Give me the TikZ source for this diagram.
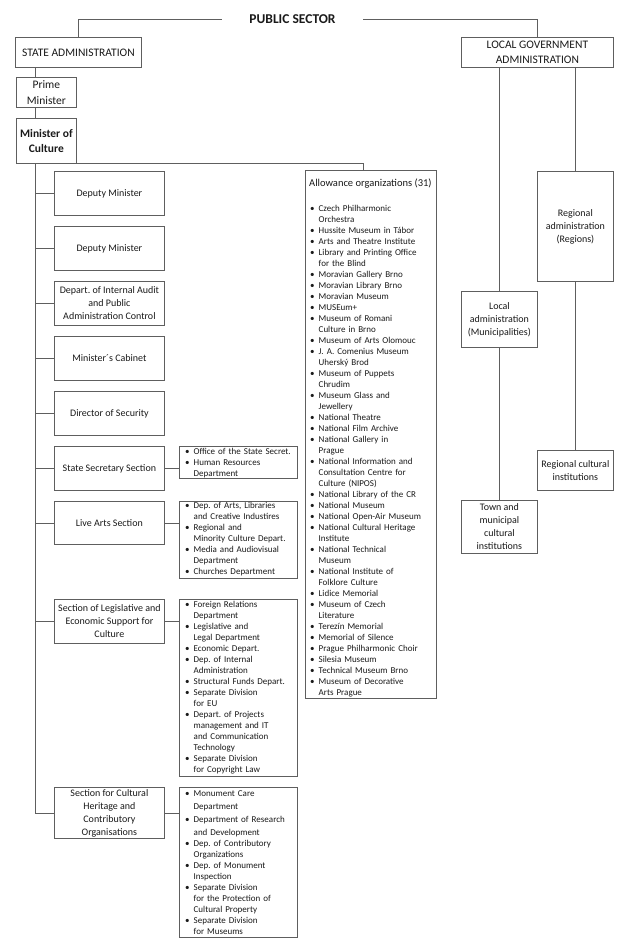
\documentclass[tikz,border=0pt]{standalone}
\usepackage{fontspec}
\setmainfont{Carlito}
\usetikzlibrary{calc}
\definecolor{ln}{HTML}{5E5E5E}
\definecolor{tx}{HTML}{1A1A1A}
\newcommand\bul{\makebox[8.5pt][l]{\textbullet}}
\newcommand\ind{\hspace*{8.5pt}}
\frenchspacing
\begin{document}
\frenchspacing
\begin{tikzpicture}[x=1pt,y=-1pt,
  every node/.style={text=tx},
  box/.style={draw=ln, line width=0.8pt, anchor=north west, inner sep=1pt, align=center},
  sz/.style 2 args={minimum width=#1pt, minimum height=#2pt},
  big/.style={font=\fontsize{11.5}{15.5}\selectfont},
  mid/.style={font=\fontsize{10}{13}\selectfont},
  lst/.style={anchor=base west, inner sep=0pt, text width=140pt, align=left, font=\fontsize{9}{11}\selectfont\frenchspacing},
  conn/.style={draw=ln, line width=0.8pt},
]
\useasboundingbox[fill=white] (0,0) rectangle (619,940);

% top level
\node[font=\bfseries\fontsize{13.5}{16}\selectfont, inner xsep=0pt, minimum width=141pt] (ps) at (292.5,19) {PUBLIC SECTOR};
\node[box, big, sz={126}{30}] (state) at (15,37) {STATE ADMINISTRATION};
\node[box, big, sz={152}{30}] (local) at (461,37) {LOCAL GOVERNMENT\\ADMINISTRATION};
\node[box, big, sz={60}{30}] (pm) at (16,77) {Prime\\Minister};
\node[box, big, sz={60}{45}, font=\bfseries\fontsize{11.5}{15.5}\selectfont] (moc) at (16,118) {Minister of\\Culture};

% left column
\node[box, mid, sz={110}{44}] (dm1) at (54,171) {Deputy Minister};
\node[box, mid, sz={110}{44}] (dm2) at (54,226) {Deputy Minister};
\node[box, mid, sz={110}{44}] (audit) at (54,281) {Depart.\ of Internal Audit\\and Public\\Administration Control};
\node[box, mid, sz={110}{44}] (cab) at (54,336) {Minister´s Cabinet};
\node[box, mid, sz={110}{44}] (sec) at (54,391) {Director of Security};
\node[box, mid, sz={110}{44}] (ss) at (54,446) {State Secretary Section};
\node[box, mid, sz={110}{43}] (live) at (54,501) {Live Arts Section};
\node[box, mid, sz={110}{44}] (legis) at (54,599) {Section of Legislative and\\Economic Support for\\Culture};
\node[box, mid, sz={110}{51}] (herit) at (54,787) {Section for Cultural\\Heritage and\\Contributory\\Organisations};

% sub-lists
\node[box, sz={118}{32}] (sslist) at (179,446) {};
\node[lst] (sstext) at (185,454.5) {\bul Office of the State Secret.\\
\bul Human Resources\\
\ind Department};

\node[box, sz={118}{77}] (livelist) at (179,501) {};
\node[lst] (livetext) at (185,508.5) {\bul Dep.\ of Arts, Libraries\\
\ind and Creative Industires\\
\bul Regional and\\
\ind Minority Culture Depart.\\
\bul Media and Audiovisual\\
\ind Department\\
\bul Churches Department};

\node[box, sz={118}{177}] (legislist) at (179,599) {};
\node[lst] (legistext) at (185,607.5) {\bul Foreign Relations\\
\ind Department\\
\bul Legislative and\\
\ind Legal Department\\
\bul Economic Depart.\\
\bul Dep.\ of Internal\\
\ind Administration\\
\bul Structural Funds Depart.\\
\bul Separate Division\\
\ind for EU\\
\bul Depart.\ of Projects\\
\ind management and IT\\
\ind and Communication\\
\ind Technology\\
\bul Separate Division\\
\ind for Copyright Law};

\node[box, sz={118}{150}] (heritlist) at (179,787) {};
\node[lst] (herittext) at (185,796.5) {\bul Monument Care\\[2pt]
\ind Department\\[2pt]
\bul Department of Research\\[2pt]
\ind and Development\\
\bul Dep.\ of Contributory\\
\ind Organizations\\
\bul Dep.\ of Monument\\
\ind Inspection\\
\bul Separate Division\\
\ind for the Protection of\\
\ind Cultural Property\\
\bul Separate Division\\
\ind for Museums};

% allowance organizations
\node[box, sz={131}{528}] (allow) at (305,170) {};
\node[anchor=base west, inner sep=0pt, font=\fontsize{10.5}{13}\selectfont] (alltitle) at (309,186.5) {Allowance organizations (31)};
\node[lst] (alltext) at (310,211.5) {\bul Czech Philharmonic\\
\ind Orchestra\\
\bul Hussite Museum in Tábor\\
\bul Arts and Theatre Institute\\
\bul Library and Printing Office\\
\ind for the Blind\\
\bul Moravian Gallery Brno\\
\bul Moravian Library Brno\\
\bul Moravian Museum\\
\bul MUSEum+\\
\bul Museum of Romani\\
\ind Culture in Brno\\
\bul Museum of Arts Olomouc\\
\bul J.\ A.\ Comenius Museum\\
\ind Uherský Brod\\
\bul Museum of Puppets\\
\ind Chrudim\\
\bul Museum Glass and\\
\ind Jewellery\\
\bul National Theatre\\
\bul National Film Archive\\
\bul National Gallery in\\
\ind Prague\\
\bul National Information and\\
\ind Consultation Centre for\\
\ind Culture (NIPOS)\\
\bul National Library of the CR\\
\bul National Museum\\
\bul National Open-Air Museum\\
\bul National Cultural Heritage\\
\ind Institute\\
\bul National Technical\\
\ind Museum\\
\bul National Institute of\\
\ind Folklore Culture\\
\bul Lidice Memorial\\
\bul Museum of Czech\\
\ind Literature\\
\bul Terezín Memorial\\
\bul Memorial of Silence\\
\bul Prague Philharmonic Choir\\
\bul Silesia Museum\\
\bul Technical Museum Brno\\
\bul Museum of Decorative\\
\ind Arts Prague};

% local government side
\node[box, mid, sz={76}{110}] (regadm) at (537,171) {Regional\\administration\\(Regions)};
\node[box, mid, sz={76}{56}] (locadm) at (461,291) {Local\\administration\\(Municipalities)};
\node[box, mid, sz={76}{40}] (regcult) at (537,450) {Regional cultural\\institutions};
\node[box, mid, sz={76}{53}] (town) at (461,500) {Town and\\municipal\\cultural\\institutions};

% connectors
\coordinate (trx) at (35,163);
\coordinate (alx) at (363,163);
\draw[conn] (ps.west) -| (state.north);
\draw[conn] (ps.east) -| (local.north);
\draw[conn] (state.south -| trx) -- (pm.north -| trx);
\draw[conn] (pm.south -| trx) -- (moc.north -| trx);
\draw[conn] (moc.south -| trx) |- (herit.west);
\draw[conn] (moc.south east) -| (alx |- allow.north);
\foreach \n in {dm1,dm2,audit,cab,sec,ss,live,legis}
  \draw[conn] (\n.west) -- (\n.west -| trx);
\foreach \a/\b in {ss/sslist,live/livelist,legis/legislist,herit/heritlist}
  \draw[conn] (\a.east) -- (\a.east -| \b.west);
\draw[conn] (local.south -| regadm.north) -- (regadm.north);
\draw[conn] (local.south -| locadm.north) -- (locadm.north);
\draw[conn] (regadm.south) -- (regcult.north);
\draw[conn] (locadm.south) -- (town.north);
\end{tikzpicture}
\end{document}
